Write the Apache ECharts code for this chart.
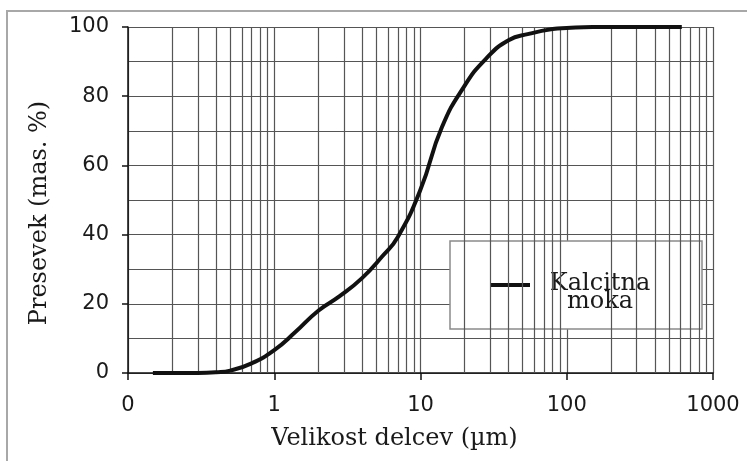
<!DOCTYPE html>
<html>
<head>
<meta charset="utf-8">
<script src="https://cdn.jsdelivr.net/npm/echarts@6/dist/echarts.min.js"></script>
<style>
html,body{margin:0;padding:0;background:#fff;}
#chart{width:747px;height:461px;}
</style>
</head>
<body>
<div id="chart"></div>
<script>
// particle size (µm) and cumulative passing (mas. %)
const sizes   = [0.148,0.2,0.3,0.4,0.5,0.7,1,1.4,2,2.8,4,5.5,7,10,14,20,28,40,55,80,100,150,612];
const passing = [0,0,0,0.2,0.7,2.8,6.6,11.9,18,22.2,27.5,33.8,39.3,53,71,83,90.8,96.2,98,99.4,99.7,100,100];
const seriesName = 'Kalcitna\nmoka';
const xTitle = 'Velikost delcev (µm)';
const yTitle = 'Presevek (mas. %)';
const minorGridX = [0.2,0.3,0.4,0.5,0.6,0.7,0.8,0.9,2,3,4,5,6,7,8,9,20,30,40,50,60,70,80,90,200,300,400,500,600,700,800,900];

const gridColor = '#555';
const chart = echarts.init(document.getElementById('chart'), null, {renderer:'canvas'});
chart.setOption({
  animation: false,
  backgroundColor: '#fff',
  grid: {left:128, right:34, top:27, bottom:88, containLabel:false},
  xAxis: {
    type: 'log', logBase: 10, min: 0.1, max: 1000,
    name: xTitle, nameLocation: 'middle', nameGap: 54,
    nameTextStyle: {fontFamily: 'DejaVu Serif', fontSize: 24, color: '#1a1a1a', padding: [0, 52, 0, 0]},
    axisLine: {show: true, lineStyle: {color: '#111', width: 1.5}},
    axisTick: {show: true, length: 7, lineStyle: {color: '#111', width: 1.5}},
    axisLabel: {fontFamily: 'DejaVu Sans', fontSize: 21, color: '#1a1a1a', margin: 22,
      formatter: v => (v < 0.5 ? '0' : String(Math.round(v)))},
    splitLine: {show: true, lineStyle: {color: gridColor, width: 1.2}},
    minorTick: {show: false}, minorSplitLine: {show: false}
  },
  yAxis: {
    type: 'value', min: 0, max: 100, interval: 20,
    name: yTitle, nameLocation: 'middle', nameGap: 76, nameRotate: 90,
    nameTextStyle: {fontFamily: 'DejaVu Serif', fontSize: 24, color: '#1a1a1a', padding: [0, 26, 0, 0]},
    axisLine: {show: true, lineStyle: {color: '#111', width: 1.5}},
    axisTick: {show: true, length: 6, lineStyle: {color: '#111', width: 1.5}},
    axisLabel: {fontFamily: 'DejaVu Sans', fontSize: 21, color: '#1a1a1a', margin: 19},
    splitLine: {show: true, lineStyle: {color: gridColor, width: 1.2}},
    minorTick: {show: false, splitNumber: 2},
    minorSplitLine: {show: true, lineStyle: {color: gridColor, width: 1.2}}
  },
  legend: {
    left: 450, top: 241,
    orient: 'vertical',
    data: [{name: seriesName}],
    icon: 'rect', itemWidth: 40, itemHeight: 4,
    padding: [21, 37, 15, 40],
    backgroundColor: '#fff', borderColor: '#8a8a8a', borderWidth: 1.5,
    formatter: n => '{p| }\n' + n.split('\n').map(s => '{a|' + s + '}').join('\n'),
    textStyle: {
      rich: {
        p: {fontSize: 10, lineHeight: 16, width: 130},
        a: {fontFamily: 'DejaVu Serif', fontSize: 24, color: '#1a1a1a', width: 130, align: 'center', lineHeight: 18}
      }
    }
  },
  graphic: [{
    type: 'polyline', silent: true,
    shape: {points: [[7, 461], [7, 11], [747, 11]]},
    style: {stroke: '#a8a8a8', lineWidth: 2, fill: null}
  }],
  series: [
    {
      type: 'line', name: 'grid-minor', data: [], z: 1, silent: true,
      markLine: {
        silent: true, symbol: ['none', 'none'], label: {show: false},
        lineStyle: {color: gridColor, width: 1.2, type: 'solid'},
        data: minorGridX.map(v => ({xAxis: v}))
      }
    },
    {
      type: 'line', name: seriesName, z: 5,
      data: sizes.map((s, i) => [s, passing[i]]),
      smooth: 0.5, showSymbol: false, symbol: 'none',
      lineStyle: {color: '#111', width: 4},
      itemStyle: {color: '#111'}
    }
  ]
});
</script>
</body>
</html>
